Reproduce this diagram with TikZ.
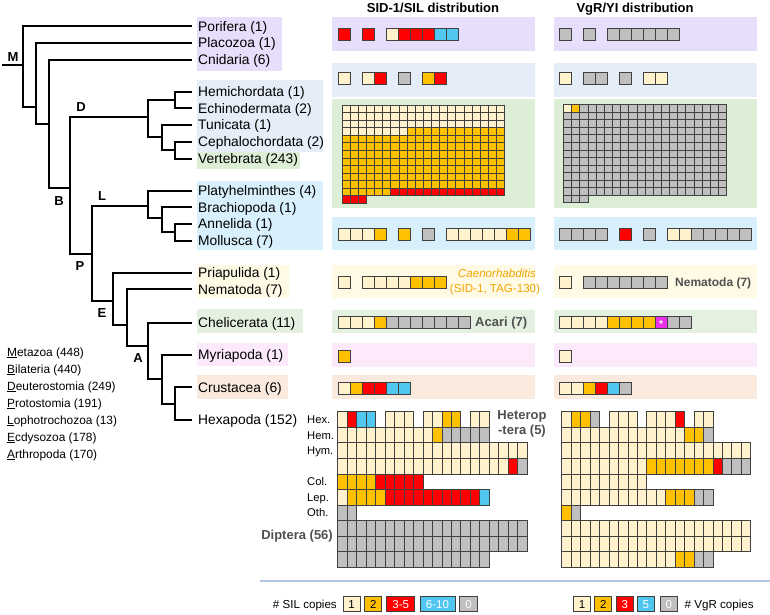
\documentclass[tikz,border=0pt]{standalone}
\usepackage{fontspec}
\setmainfont{Liberation Sans}
\definecolor{kc}{RGB}{255,242,204}
\definecolor{ko}{RGB}{255,192,0}
\definecolor{kr}{RGB}{255,0,0}
\definecolor{kb}{RGB}{80,198,240}
\definecolor{kg}{RGB}{191,191,191}
\definecolor{km}{RGB}{235,50,235}
\definecolor{bgpurple}{RGB}{230,222,250}
\definecolor{bgdeut}{RGB}{228,237,248}
\definecolor{bgvert}{RGB}{221,238,214}
\definecolor{bgloph}{RGB}{216,240,252}
\definecolor{bgnema}{RGB}{255,250,230}
\definecolor{bgcheli}{RGB}{228,240,224}
\definecolor{bgmyri}{RGB}{252,234,252}
\definecolor{bgcrus}{RGB}{250,234,222}
\definecolor{cellline}{RGB}{64,64,64}
\definecolor{labgray}{RGB}{80,80,80}
\definecolor{caeno}{RGB}{240,165,0}
\definecolor{sepline}{RGB}{180,198,231}
\tikzset{
  cell/.style={draw=cellline,line width=0.7pt},
  treeline/.style={line width=1.1pt},
  taxon/.style={anchor=base west,yshift=-4.9pt,inner sep=0pt,font=\fontsize{13.8}{16}\selectfont},
  smalltx/.style={anchor=base west,yshift=-4.2pt,inner sep=0pt,font=\fontsize{11.9}{14}\selectfont},
  hexlab/.style={anchor=base west,yshift=-4pt,inner sep=0pt,font=\fontsize{11.2}{13}\selectfont},
  clade/.style={anchor=base,yshift=-4.7pt,inner sep=0pt,font=\bfseries\fontsize{13}{15}\selectfont},
  grplab/.style={inner sep=0pt,text=labgray,font=\bfseries\fontsize{13}{15}\selectfont},
  titletx/.style={anchor=base,inner sep=0pt,font=\bfseries\fontsize{13}{15}\selectfont},
  legbox/.style={draw=cellline,line width=0.7pt,minimum height=15pt,inner sep=0pt,font=\fontsize{11.5}{12}\selectfont}
}
\def\gapmark{n}
\newcommand\cellrow[5]{%
  \foreach \s [count=\ii from 0] in {#5}{%
    \ifx\s\gapmark\else
      \path[cell,fill=\s] ({#1+\ii*#3},{#2}) rectangle ++(#3,#4);
    \fi}}
\newcommand\cellrun[7]{%
  \foreach \ii in {1,...,#6}{%
    \path[cell,fill=#7] ({#1+(#5+\ii-1)*#3},{#2}) rectangle ++(#3,#4);}}
\begin{document}
\begin{tikzpicture}[x=1pt,y=-1pt]
\useasboundingbox (0,0) rectangle (770,614);
% label backgrounds
\fill[bgpurple] (197,17) rectangle (282,71);
\fill[bgdeut] (197,80) rectangle (323,152);
\fill[bgvert] (197,152) rectangle (300,169);
\fill[bgloph] (197,181) rectangle (323,250);
\fill[bgnema] (197,265) rectangle (289,298);
\fill[bgcheli] (197,309) rectangle (303,333);
\fill[bgmyri] (197,343) rectangle (288,366);
\fill[bgcrus] (197,375) rectangle (288,399);
% panel backgrounds
\foreach \xa/\xb in {332/535,554/757}{
  \fill[bgpurple] (\xa,17) rectangle (\xb,51);
  \fill[bgdeut] (\xa,63) rectangle (\xb,97);
  \fill[bgvert] (\xa,99) rectangle (\xb,208);
  \fill[bgloph] (\xa,217) rectangle (\xb,250);
  \fill[bgnema] (\xa,265) rectangle (\xb,298);
  \fill[bgcheli] (\xa,310) rectangle (\xb,333);
  \fill[bgmyri] (\xa,343) rectangle (\xb,367);
  \fill[bgcrus] (\xa,375) rectangle (\xb,399);
}
% titles
\node[titletx] (tsid) at (433,12.5) {SID-1/SIL distribution};
\node[titletx] (tvgr) at (635,12.5) {VgR/YI distribution};
% tree
\begin{scope}[treeline]
\draw (2,65) -- (23,65);
\draw (192,26) -| (23,107) -- (36,107);
\draw (192,43) -| (36,124) -- (49,124);
\draw (192,60) -| (49,188) -- (70,188);
\draw (148,117) -- (70,117) -- (70,254) -- (92,254);
\draw (175,100) -| (148,137) -- (162,137);
\draw (192,92) -| (175,108) -- (192,108);
\draw (192,125) -| (162,150) -- (175,150);
\draw (192,142) -| (175,159) -- (192,159);
\draw (148,206) -- (92,206) -- (92,301) -- (113,301);
\draw (192,191) -| (148,218) -- (162,218);
\draw (192,207) -| (162,232) -- (175,232);
\draw (192,224) -| (175,241) -- (192,241);
\draw (192,273) -| (113,325) -- (127,325);
\draw (192,289) -| (127,346) -- (148,346);
\draw (192,323) -| (148,379) -- (162,379);
\draw (192,355) -| (162,404) -- (175,404);
\draw (192,387) -| (175,420) -- (192,420);
\end{scope}
\node[clade] (cM) at (13,57) {M};
\node[clade] (cD) at (81,107) {D};
\node[clade] (cB) at (59,201) {B};
\node[clade] (cL) at (102,196) {L};
\node[clade] (cP) at (80,266) {P};
\node[clade] (cE) at (102,313) {E};
\node[clade] (cA) at (138,358) {A};
% taxa
\node[taxon] (t1) at (198,26.5) {Porifera (1)};
\node[taxon] (t2) at (198,43) {Placozoa (1)};
\node[taxon] (t3) at (198,60) {Cnidaria (6)};
\node[taxon] (t4) at (198,92) {Hemichordata (1)};
\node[taxon] (t5) at (198,108.5) {Echinodermata (2)};
\node[taxon] (t6) at (198,125) {Tunicata (1)};
\node[taxon] (t7) at (198,142) {Cephalochordata (2)};
\node[taxon] (t8) at (198,159) {Vertebrata (243)};
\node[taxon] (t9) at (198,191) {Platyhelminthes (4)};
\node[taxon] (t10) at (198,207.5) {Brachiopoda (1)};
\node[taxon] (t11) at (198,224) {Annelida (1)};
\node[taxon] (t12) at (198,241) {Mollusca (7)};
\node[taxon] (t13) at (198,273) {Priapulida (1)};
\node[taxon] (t14) at (198,289.5) {Nematoda (7)};
\node[taxon] (t15) at (198,322.5) {Chelicerata (11)};
\node[taxon] (t16) at (198,355) {Myriapoda (1)};
\node[taxon] (t17) at (198,387.5) {Crustacea (6)};
\node[taxon] (t18) at (198,420) {Hexapoda (152)};
% clade legend
\node[smalltx] (l1) at (7,352) {\underline{M}etazoa (448)};
\node[smalltx] (l2) at (7,369) {\underline{B}ilateria (440)};
\node[smalltx] (l3) at (7,386) {\underline{D}euterostomia (249)};
\node[smalltx] (l4) at (7,403) {\underline{P}rotostomia (191)};
\node[smalltx] (l5) at (7,420) {\underline{L}ophotrochozoa (13)};
\node[smalltx] (l6) at (7,437) {\underline{E}cdysozoa (178)};
\node[smalltx] (l7) at (7,454) {\underline{A}rthropoda (170)};
% --- top rows
\cellrow{338}{28}{12}{12}{kr,n,kr,n,kc,kr,kr,kr,kb,kb}
\cellrow{559}{28}{12}{12}{kg,n,kg,n,kg,kg,kg,kg,kg,kg}
\cellrow{338}{72}{12}{12}{kc,n,kc,kr,n,kg,n,ko,kr}
\cellrow{559}{72}{12}{12}{kc,n,kg,kg,n,kg,n,kc,kc}
% vertebrata SID
\foreach \rr in {0,1,2}{\cellrun{342}{105+\rr*7.56}{8.13}{7.56}{0}{20}{kc}}
\cellrun{342}{127.68}{8.13}{7.56}{0}{8}{kc}
\cellrun{342}{127.68}{8.13}{7.56}{8}{12}{ko}
\foreach \rr in {4,...,10}{\cellrun{342}{105+\rr*7.56}{8.13}{7.56}{0}{20}{ko}}
\cellrun{342}{188.16}{8.13}{7.56}{0}{6}{ko}
\cellrun{342}{188.16}{8.13}{7.56}{6}{14}{kr}
\cellrun{342}{195.72}{8.13}{7.56}{0}{3}{kr}
% vertebrata VgR
\cellrun{563.5}{104.5}{8.15}{7.56}{0}{1}{kc}
\cellrun{563.5}{104.5}{8.15}{7.56}{1}{1}{ko}
\cellrun{563.5}{104.5}{8.15}{7.56}{2}{18}{kg}
\foreach \rr in {1,...,11}{\cellrun{563.5}{104.5+\rr*7.56}{8.15}{7.56}{0}{20}{kg}}
\cellrun{563.5}{195.22}{8.15}{7.56}{0}{3}{kg}
% lophotrochozoa
\cellrow{338}{228}{12}{12}{kc,kc,kc,ko,n,ko,n,kg,n,kc,kc,kc,kc,kc,ko,ko}
\cellrow{559}{228}{12}{12}{kg,kg,kg,kg,n,kr,n,kg,n,kc,kc,kg,kg,kg,kg,kg}
% priapulida / nematoda
\cellrow{338}{276}{12}{12}{kc,n,kc,kc,kc,kc,ko,ko,ko}
\cellrow{559}{276}{12}{12}{kc,n,kg,kg,kg,kg,kg,kg,kg}
% chelicerata
\cellrow{338}{316}{12}{12}{kc,kc,kc,ko,kg,kg,kg,kg,kg,kg,kg}
\cellrow{559}{316}{12}{12}{kc,kc,kc,kc,ko,ko,ko,ko,km,kg,kg}
\node[text=white,inner sep=0pt,font=\bfseries\fontsize{10}{10}\selectfont] (ast) at (661,324) {*};
% myriapoda
\cellrow{338}{350}{12}{12}{ko}
\cellrow{559}{350}{12}{12}{kc}
% crustacea
\cellrow{338}{382}{12}{12}{kc,ko,kr,kr,kb,kb}
\cellrow{559}{382}{12}{12}{kc,kc,ko,kr,kb,kg}
% hexapoda SID
\cellrow{337.7}{411.7}{9.47}{15.55}{kc,kr,kb,kb,n,kc,kc,kc,n,kc,kc,ko,ko,n,kc,kc}
\cellrun{337.7}{427.25}{9.47}{15.55}{0}{10}{kc}
\cellrun{337.7}{427.25}{9.47}{15.55}{10}{1}{ko}
\cellrun{337.7}{427.25}{9.47}{15.55}{11}{5}{kg}
\cellrun{337.7}{442.8}{9.47}{15.55}{0}{20}{kc}
\cellrun{337.7}{458.35}{9.47}{15.55}{0}{18}{kc}
\cellrun{337.7}{458.35}{9.47}{15.55}{18}{1}{kr}
\cellrun{337.7}{458.35}{9.47}{15.55}{19}{1}{kg}
\cellrun{337.7}{473.9}{9.47}{15.55}{0}{4}{ko}
\cellrun{337.7}{473.9}{9.47}{15.55}{4}{5}{kr}
\cellrun{337.7}{489.45}{9.47}{15.55}{0}{1}{kc}
\cellrun{337.7}{489.45}{9.47}{15.55}{1}{4}{ko}
\cellrun{337.7}{489.45}{9.47}{15.55}{5}{10}{kr}
\cellrun{337.7}{489.45}{9.47}{15.55}{15}{1}{kb}
\cellrun{337.7}{505}{9.47}{15.55}{0}{2}{kg}
\cellrun{337.7}{520.55}{9.47}{15.55}{0}{20}{kg}
\cellrun{337.7}{536.1}{9.47}{15.55}{0}{20}{kg}
\cellrun{337.7}{551.65}{9.47}{15.55}{0}{16}{kg}
% hexapoda VgR
\cellrow{561.7}{411.7}{9.45}{15.55}{kc,ko,ko,kg,n,kc,kc,kc,n,kc,kc,kc,kr,n,kc,kc}
\cellrun{561.7}{427.25}{9.45}{15.55}{0}{13}{kc}
\cellrun{561.7}{427.25}{9.45}{15.55}{13}{2}{ko}
\cellrun{561.7}{427.25}{9.45}{15.55}{15}{1}{kg}
\cellrun{561.7}{442.8}{9.45}{15.55}{0}{20}{kc}
\cellrun{561.7}{458.35}{9.45}{15.55}{0}{9}{kc}
\cellrun{561.7}{458.35}{9.45}{15.55}{9}{7}{ko}
\cellrun{561.7}{458.35}{9.45}{15.55}{16}{1}{kr}
\cellrun{561.7}{458.35}{9.45}{15.55}{17}{3}{kg}
\cellrun{561.7}{473.9}{9.45}{15.55}{0}{9}{kc}
\cellrun{561.7}{489.45}{9.45}{15.55}{0}{11}{kc}
\cellrun{561.7}{489.45}{9.45}{15.55}{11}{3}{ko}
\cellrun{561.7}{489.45}{9.45}{15.55}{14}{2}{kg}
\cellrun{561.7}{505}{9.45}{15.55}{0}{1}{ko}
\cellrun{561.7}{505}{9.45}{15.55}{1}{1}{kg}
\cellrun{561.7}{520.55}{9.45}{15.55}{0}{20}{kc}
\cellrun{561.7}{536.1}{9.45}{15.55}{0}{20}{kc}
\cellrun{561.7}{551.65}{9.45}{15.55}{0}{12}{kc}
\cellrun{561.7}{551.65}{9.45}{15.55}{12}{2}{ko}
\cellrun{561.7}{551.65}{9.45}{15.55}{14}{2}{kg}
% hexapoda row labels
\node[hexlab] (h1) at (307,419.5) {Hex.};
\node[hexlab] (h2) at (307,435) {Hem.};
\node[hexlab] (h3) at (307,450.5) {Hym.};
\node[hexlab] (h4) at (307,481.7) {Col.};
\node[hexlab] (h5) at (307,497.3) {Lep.};
\node[hexlab] (h6) at (307,512.8) {Oth.};
\node[grplab,anchor=base east,yshift=-4.7pt] (dip) at (333,535) {Diptera (56)};
\node[grplab,anchor=base,yshift=-4.7pt] (het1) at (522,415) {Heterop};
\node[grplab,anchor=base,yshift=-4.7pt] (het2) at (522,430) {-tera (5)};
% panel annotations
\node[inner sep=0pt,anchor=base,yshift=-4.1pt,text=caeno,font=\itshape\fontsize{11.6}{14}\selectfont] (cae1) at (497,273) {Caenorhabditis};
\node[inner sep=0pt,anchor=base,yshift=-4.1pt,text=caeno,font=\fontsize{11.6}{14}\selectfont] (cae2) at (495,288) {(SID-1, TAG-130)};
\node[grplab,anchor=base west,yshift=-4.4pt,font=\bfseries\fontsize{12}{14}\selectfont] (nem) at (675,282) {Nematoda (7)};
\node[grplab,anchor=base west,yshift=-4.7pt] (aca) at (475,322) {Acari (7)};
% separator
\draw[sepline,line width=2pt] (260,581) -- (770,581);
% legends
\node[smalltx,anchor=base east,font=\fontsize{11.6}{14}\selectfont] (lsil) at (337,604.5) {\# SIL copies};
\node[legbox,fill=kc,minimum width=17pt] (s1) at (351.5,604.3) {1};
\node[legbox,fill=ko,minimum width=17pt] (s2) at (373.3,604.3) {2};
\node[legbox,fill=kr,text=white,minimum width=28pt] (s3) at (400.8,604.3) {3-5};
\node[legbox,fill=kb,text=white,minimum width=35pt] (s4) at (437.5,604.3) {6-10};
\node[legbox,fill=kg,text=white,minimum width=18pt] (s5) at (468.5,604.3) {0};
\node[legbox,fill=kc,minimum width=17pt] (v1) at (582,604.3) {1};
\node[legbox,fill=ko,minimum width=17pt] (v2) at (603.3,604.3) {2};
\node[legbox,fill=kr,text=white,minimum width=17pt] (v3) at (624.7,604.3) {3};
\node[legbox,fill=kb,text=white,minimum width=17pt] (v4) at (645.8,604.3) {5};
\node[legbox,fill=kg,text=white,minimum width=17pt] (v5) at (668.7,604.3) {0};
\node[smalltx,font=\fontsize{11.6}{14}\selectfont] (lvgr) at (684.5,604.5) {\# VgR copies};
\end{tikzpicture}
\end{document}
